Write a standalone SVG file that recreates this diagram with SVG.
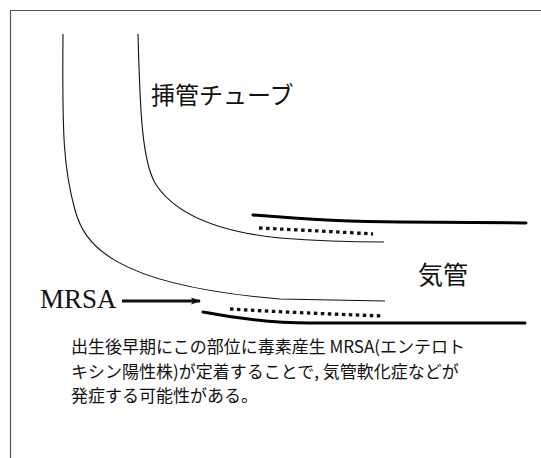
<svg xmlns="http://www.w3.org/2000/svg" width="541" height="458" viewBox="0 0 541 458">
  <style>
    .frame { fill: none; stroke: #555; stroke-width: 1.2; }
    .wall { fill: none; stroke: #111; stroke-width: 1.1; }
    .trachea { fill: none; stroke: #000; stroke-width: 3; stroke-linecap: round; }
    .colony { fill: none; stroke: #111; stroke-width: 3.3; stroke-dasharray: 3.5 3.5; }
    .jp { font-family: "Noto Sans CJK JP", "Noto Sans", sans-serif; fill: #111; }
    .roman { font-family: "Liberation Serif", serif; fill: #111; }
  </style>
  <defs>
    <marker id="arrowhead" markerWidth="10" markerHeight="8" refX="9" refY="4" orient="auto" markerUnits="userSpaceOnUse">
      <path d="M0,0.5 L10,4 L0,7.5 L2,4 Z" fill="#111"/>
    </marker>
  </defs>
  <rect width="541" height="458" fill="#fff"/>
  <!-- frame: top and left edges only -->
  <path class="frame" d="M10.5,458 L10.5,10.5 L541,10.5"/>

  <!-- endotracheal tube walls -->
  <g id="tube">
    <path class="wall" d="M63,34 C62,140 64,170 75,210 C84,243 110,285 280,299 L385,301"/>
    <path class="wall" d="M138,34 C140,110 142,160 155,183 C175,215 220,232 280,238 C330,242 360,242 384,242"/>
    <text class="jp" x="151" y="104" font-size="24">挿管チューブ</text>
  </g>

  <!-- tracheal walls -->
  <g id="trachea">
    <path class="trachea" d="M253,215 C300,219 350,222 400,222 L526,223"/>
    <path class="trachea" d="M203,312 C240,319 275,323 310,323 L525,323"/>
    <text class="jp" x="418" y="284" font-size="25">気管</text>
  </g>

  <!-- MRSA colonisation at the tube tip -->
  <g id="colonies">
    <path class="colony" d="M259,228 C300,230 340,232 373,234"/>
    <path class="colony" d="M230,309 C280,312 330,314 383,316"/>
  </g>

  <g id="mrsa-label">
    <text class="roman" x="40" y="308" font-size="27">MRSA</text>
  </g>

  <g id="connectors">
    <line x1="122" y1="301" x2="200" y2="301" stroke="#111" stroke-width="3" marker-end="url(#arrowhead)"/>
  </g>

  <g id="caption">
    <text class="jp" x="71" y="353" font-size="17">出生後早期にこの部位に毒素産生 MRSA(エンテロト</text>
    <text class="jp" x="71" y="378" font-size="17">キシン陽性株)が定着することで, 気管軟化症などが</text>
    <text class="jp" x="71" y="402" font-size="17">発症する可能性がある。</text>
  </g>
</svg>
